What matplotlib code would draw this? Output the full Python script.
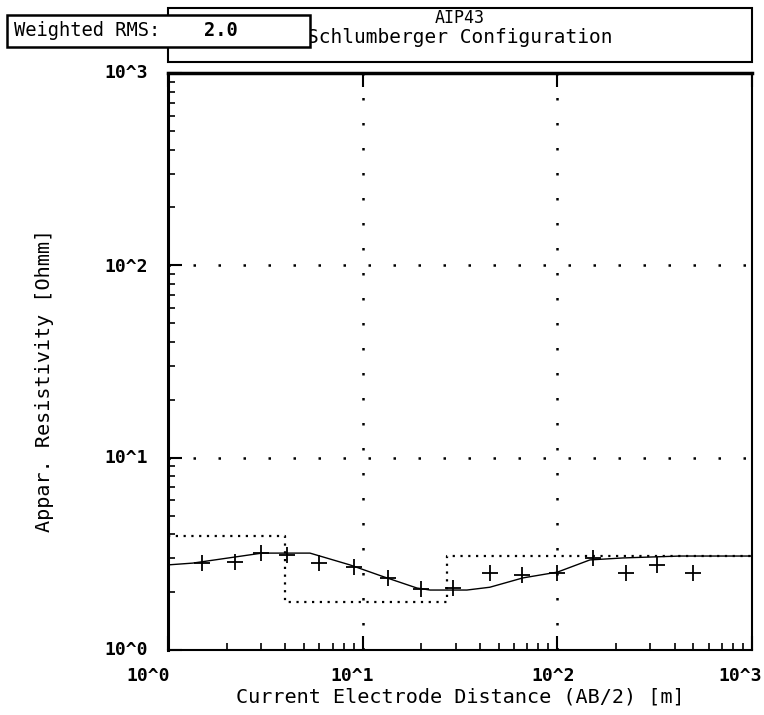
import numpy as np
import matplotlib
matplotlib.use("Agg")
import matplotlib.pyplot as plt
from matplotlib.ticker import LogLocator, NullFormatter

# measured data (AB/2 [m], apparent resistivity [Ohmm])
ab2 = [1.5, 2.2, 3.0, 4.1, 6.0, 9.0, 13.5, 20, 29, 45, 66, 100, 152, 225, 324, 497]
rho_meas = [2.83, 2.87, 3.19, 3.12, 2.83, 2.70, 2.37, 2.08, 2.10, 2.51, 2.45, 2.51, 3.01, 2.51, 2.77, 2.51]

# model response curve
curve_x = [1.0, 1.34, 3.04, 5.36, 8.6, 12.7, 19.0, 22.2, 34.3, 45, 66.5, 100, 147, 217, 426, 1000]
curve_rho = [2.77, 2.83, 3.19, 3.19, 2.77, 2.41, 2.10, 2.05, 2.05, 2.12, 2.37, 2.54, 2.94, 3.01, 3.08, 3.08]

# layered model
layer_rho = [3.9, 1.78, 3.08]
layer_depth = [4.0, 27.0]

rms_label = "Weighted RMS:"
rms_value = "2.0"
title_lines = ["AIP43", "Schlumberger Configuration"]

font = "DejaVu Sans Mono"

fig = plt.figure(figsize=(7.64, 7.15), dpi=100)
ax = fig.add_axes([168 / 764, 1 - 650 / 715, (752 - 168) / 764, (650 - 73) / 715])
ax.set_xscale("log")
ax.set_yscale("log")
ax.set_xlim(1, 1000)
ax.set_ylim(1, 1000)

# step model
sx = [1.0, layer_depth[0], layer_depth[0], layer_depth[1], layer_depth[1], 1000]
sy = [layer_rho[0], layer_rho[0], layer_rho[1], layer_rho[1], layer_rho[2], layer_rho[2]]
ax.plot(sx, sy, color="black", lw=1.6, linestyle=(0, (1, 2.5)))

ax.plot(curve_x, curve_rho, color="black", lw=1.0)
ax.plot(ab2, rho_meas, "+", color="black", ms=11, mew=1.3)

# sparse dotted grid at decades
for v in [10, 100]:
    ax.axvline(v, color="black", lw=1.8, linestyle=(0, (1, 9)))
    ax.axhline(v, color="black", lw=1.8, linestyle=(0, (1, 9)))

ax.xaxis.set_major_locator(LogLocator(base=10, numticks=10))
ax.yaxis.set_major_locator(LogLocator(base=10, numticks=10))
ax.xaxis.set_minor_locator(LogLocator(base=10, subs=np.arange(2, 10), numticks=10))
ax.yaxis.set_minor_locator(LogLocator(base=10, subs=np.arange(2, 10), numticks=10))
ax.xaxis.set_minor_formatter(NullFormatter())
ax.yaxis.set_minor_formatter(NullFormatter())
ax.tick_params(which="major", direction="in", length=10, width=1.5, top=True, right=False)
ax.tick_params(which="minor", direction="in", length=5, width=1.2, top=False, right=False)
ax.set_xticklabels([])
ax.set_yticklabels([])

for s in ax.spines.values():
    s.set_linewidth(1.5)
ax.spines["left"].set_linewidth(2.2)
ax.spines["top"].set_linewidth(2.5)

# decade labels, drawn as plain text like the original
xlab_pos = [148, 352, 553, 740]
ylab_pos = [650, 458, 267, 73]
for i in range(4):
    fig.text(xlab_pos[i] / 764, 1 - 676 / 715, "10^%d" % i, ha="center", va="center",
             family=font, fontsize=13, fontweight="bold")
    fig.text(148 / 764, 1 - ylab_pos[i] / 715, "10^%d" % i, ha="right", va="center",
             family=font, fontsize=13, fontweight="bold")

fig.text(460 / 764, 1 - 697 / 715, "Current Electrode Distance (AB/2) [m]",
         ha="center", va="center", family=font, fontsize=14.5)
fig.text(45 / 764, 1 - 380 / 715, "Appar. Resistivity [Ohmm]", rotation=90,
         ha="center", va="center", family=font, fontsize=14.5)

# title box
fig.patches.append(plt.Rectangle((168 / 764, 1 - 62 / 715), (752 - 168) / 764, 54 / 715,
                                 transform=fig.transFigure, fill=False, lw=1.5, ec="black"))
fig.text(460 / 764, 1 - 23 / 715, title_lines[0], ha="center", va="baseline",
         family=font, fontsize=12)
fig.text(460 / 764, 1 - 43 / 715, title_lines[1], ha="center", va="baseline",
         family=font, fontsize=14)

# RMS box
fig.patches.append(plt.Rectangle((7 / 764, 1 - 47 / 715), (310 - 7) / 764, 32 / 715,
                                 transform=fig.transFigure, fill=True, fc="white",
                                 lw=1.8, ec="black", zorder=5))
fig.text(14 / 764, 1 - 31 / 715, rms_label, ha="left", va="center",
         family=font, fontsize=13.5, zorder=6)
fig.text(204 / 764, 1 - 31 / 715, rms_value, ha="left", va="center",
         family=font, fontsize=13.5, fontweight="bold", zorder=6)

fig.savefig("out.png", dpi=100)
